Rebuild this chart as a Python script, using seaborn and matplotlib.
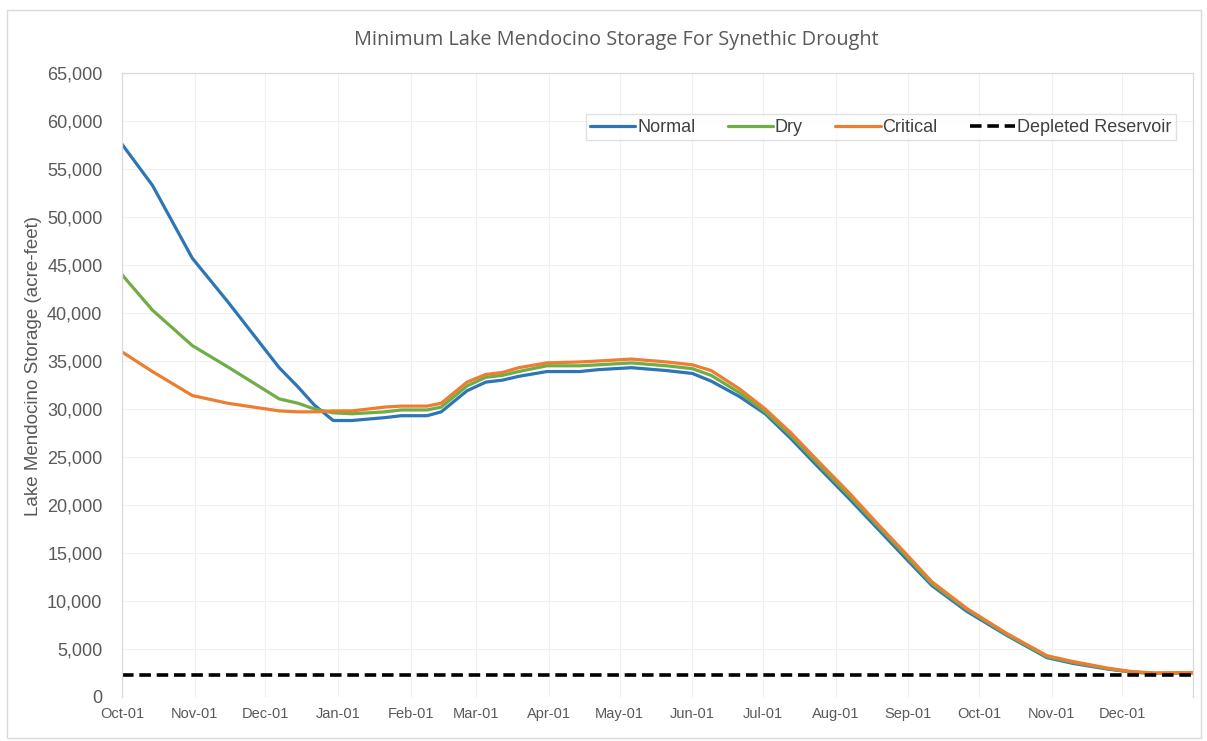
import matplotlib
matplotlib.use("Agg")
import matplotlib.pyplot as plt
import matplotlib.dates as mdates
import matplotlib.ticker as mticker
from matplotlib.patches import Rectangle
import pandas as pd
import seaborn as sns

# dados (acre-feet)
DATAS = ["2020-10-01", "2020-10-14", "2020-10-31", "2020-11-15", "2020-12-07",
         "2020-12-15", "2020-12-22", "2020-12-30", "2021-01-07", "2021-01-21",
         "2021-01-28", "2021-02-08", "2021-02-14", "2021-02-25", "2021-03-05",
         "2021-03-12", "2021-03-19", "2021-03-31", "2021-04-14", "2021-04-22",
         "2021-05-06", "2021-05-21", "2021-06-01", "2021-06-09", "2021-06-21",
         "2021-07-02", "2021-07-13", "2021-07-24", "2021-08-07", "2021-08-19",
         "2021-08-31", "2021-09-11", "2021-09-26", "2021-10-13", "2021-10-30",
         "2021-11-10", "2021-11-25", "2021-12-05", "2021-12-15", "2021-12-31"]

NORMAL = [57600, 53300, 45700, 41200, 34300, 32300, 30400, 28800, 28800, 29100,
          29300, 29300, 29700, 31900, 32800, 33000, 33400, 33900, 33900, 34100,
          34300, 34000, 33700, 32900, 31300, 29500, 26900, 24100, 20600, 17500,
          14400, 11600, 8900, 6400, 4100, 3500, 2900, 2600, 2450, 2500]

DRY = [44000, 40300, 36600, 34400, 31050, 30600, 30000, 29600, 29500, 29700,
       29900, 29900, 30200, 32400, 33300, 33500, 33900, 34500, 34500, 34600,
       34800, 34500, 34200, 33500, 31700, 29700, 27200, 24400, 20900, 17800,
       14700, 11800, 9100, 6500, 4200, 3600, 2950, 2600, 2450, 2500]

CRITICAL = [35950, 33900, 31400, 30600, 29800, 29700, 29700, 29800, 29800, 30200,
            30300, 30300, 30600, 32800, 33600, 33800, 34300, 34800, 34900, 35000,
            35200, 34900, 34600, 34000, 32100, 30000, 27500, 24700, 21200, 18000,
            14900, 12000, 9200, 6600, 4300, 3700, 3000, 2650, 2500, 2550]

DEPLETED_DATAS = ["2020-10-01", "2021-12-31"]
DEPLETED = [2300, 2300]

SERIES = ["Normal", "Dry", "Critical"]
CORES = {"Normal": "#2E75B6", "Dry": "#70AD47", "Critical": "#ED7D31"}

GRID = "#F0F0F0"
BORDA = "#D9D9D9"
TXT = "#595959"

sns.set_theme(style="white")
plt.rcParams["font.family"] = ["Liberation Sans", "DejaVu Sans"]

df = pd.DataFrame({"data": pd.to_datetime(DATAS), "Normal": NORMAL,
                   "Dry": DRY, "Critical": CRITICAL})
longo = df.melt(id_vars="data", value_vars=SERIES, var_name="cenario", value_name="storage")
dep = pd.DataFrame({"data": pd.to_datetime(DEPLETED_DATAS), "storage": DEPLETED})

fig = plt.figure(figsize=(12.07, 7.41), dpi=100)
ax = fig.add_axes([0.101, 0.0594, 0.887, 0.8421])

for nome in SERIES:
    sub = longo[longo["cenario"] == nome]
    sns.lineplot(data=sub, x="data", y="storage", ax=ax, color=CORES[nome],
                 linewidth=2.3, label=nome, legend=False)
sns.lineplot(data=dep, x="data", y="storage", ax=ax, color="black",
             linewidth=2.6, label="Depleted Reservoir", legend=False)
ax.lines[-1].set_dashes((3.2, 1.6))

ax.set_xlim(pd.Timestamp("2020-10-01"), pd.Timestamp("2021-12-31"))
ax.set_ylim(0, 65000)
ax.yaxis.set_major_locator(mticker.MultipleLocator(5000))
ax.yaxis.set_major_formatter(mticker.FuncFormatter(lambda v, p: f"{v:,.0f}"))
ax.xaxis.set_major_locator(mdates.MonthLocator(bymonthday=1))
ax.xaxis.set_major_formatter(mdates.DateFormatter("%b-%d"))

ax.grid(True, color=GRID, linewidth=0.8)
for lado in ["left", "right", "top"]:
    ax.spines[lado].set_color(BORDA)
    ax.spines[lado].set_linewidth(0.9)
ax.spines["bottom"].set_visible(False)

ax.tick_params(axis="y", length=0, pad=14, labelsize=13, labelcolor=TXT)
ax.tick_params(axis="x", length=0, pad=7, labelsize=10.5, labelcolor=TXT)

ax.set_xlabel("")
ax.set_ylabel("Lake Mendocino Storage (acre-feet)", fontsize=13.5, color=TXT)
ax.yaxis.set_label_coords(-0.075, 0.53)

fig.text(0.511, 0.946, "Minimum Lake Mendocino Storage For Synethic Drought",
         ha="center", va="center", fontsize=14.3, color=TXT,
         family=["Open Sans", "DejaVu Sans"])

handles, labels = ax.get_legend_handles_labels()
leg = ax.legend(handles, labels, ncol=4, loc="upper right",
                bbox_to_anchor=(0.993, 0.948), fontsize=13, frameon=True,
                fancybox=False, edgecolor=BORDA, handlelength=2.5,
                handletextpad=0.1, columnspacing=1.8, borderpad=0.25)
for t in leg.get_texts():
    t.set_color("#404040")

# borda externa do grafico (estilo excel)
fig.patches.append(Rectangle((0.006, 0.004), 0.989, 0.983, transform=fig.transFigure,
                             fill=False, edgecolor=BORDA, linewidth=1.0))

plt.savefig("out.png", dpi=100, facecolor="white")
plt.close()
